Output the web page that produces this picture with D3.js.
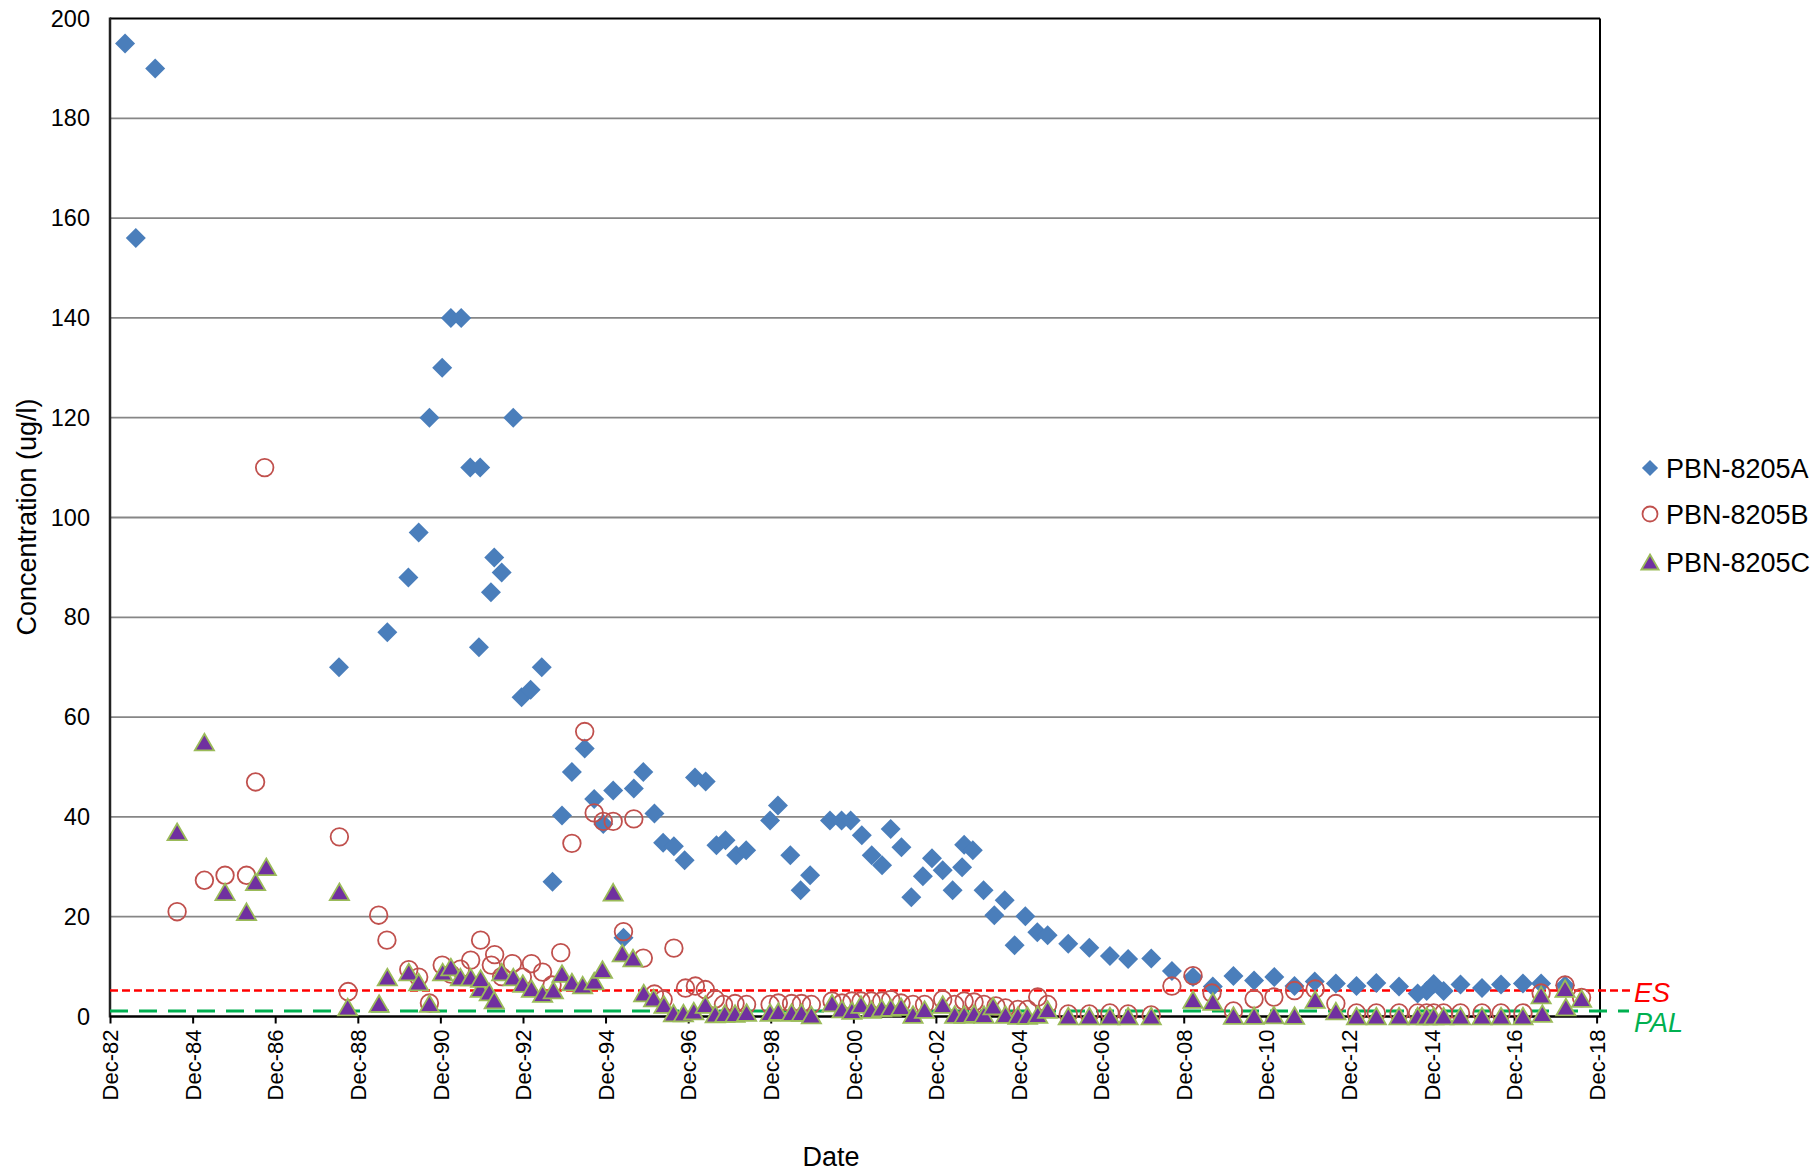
<!DOCTYPE html>
<html><head><meta charset="utf-8">
<script src="https://cdn.jsdelivr.net/npm/d3@7"></script>
<style>
html,body{margin:0;padding:0;background:#fff;}
svg{display:block;font-family:"Liberation Sans",Arial,sans-serif;}
</style></head>
<body>
<svg id="chart" width="1820" height="1171"></svg>
<script>
// ---- data (dates as decimal years, values in ug/l) ----
const datesA = [1983.28,1983.54,1984.01,1988.46,1989.63,1990.14,1990.39,1990.65,1990.96,1991.17,1991.42,1991.64,1991.85,1991.88,1992.14,1992.22,1992.40,1992.68,1992.88,1993.10,1993.37,1993.63,1993.86,1994.10,1994.41,1994.64,1994.86,1995.10,1995.35,1995.60,1995.83,1996.10,1996.31,1996.57,1996.83,1997.08,1997.34,1997.60,1997.82,1998.08,1998.32,1998.90,1999.09,1999.39,1999.64,1999.87,2000.35,2000.63,2000.85,2001.12,2001.36,2001.61,2001.82,2002.08,2002.32,2002.60,2002.82,2003.08,2003.32,2003.55,2003.60,2003.81,2004.07,2004.33,2004.58,2004.82,2005.08,2005.37,2005.62,2006.12,2006.63,2007.13,2007.57,2008.13,2008.63,2009.14,2009.62,2010.12,2010.62,2011.11,2011.60,2012.09,2012.60,2013.10,2013.58,2014.13,2014.58,2014.80,2014.97,2015.21,2015.62,2016.14,2016.60,2017.13,2017.57,2018.15];
const valuesA = [195,156,190,70,77,88,97,120,130,140,140,110,74,110,85,92,89,120,64,65.5,70,27,40.3,49,53.7,43.6,38.6,45.3,15.8,45.7,49,40.7,34.8,34.1,31.3,47.9,47.1,34.3,35.3,32.3,33.3,39.3,42.3,32.3,25.3,28.3,39.3,39.3,39.3,36.3,32.3,30.3,37.6,33.9,23.9,28.1,31.7,29.3,25.3,29.9,34.4,33.3,25.3,20.3,23.3,14.3,20.1,16.9,16.3,14.6,13.8,12.1,11.5,11.6,9.1,7.9,6.0,8.1,7.2,7.9,6.1,7.0,6.6,6.1,6.7,6.0,4.6,5.1,6.5,5.1,6.4,5.7,6.4,6.6,6.6,6.2];

const datesB = [1984.54,1985.20,1985.70,1986.22,1986.44,1986.66,1988.47,1988.68,1989.42,1989.62,1990.15,1990.39,1990.65,1990.96,1991.17,1991.40,1991.65,1991.89,1992.15,1992.23,1992.40,1992.66,1992.90,1993.12,1993.39,1993.62,1993.83,1994.10,1994.41,1994.64,1994.86,1995.10,1995.35,1995.60,1995.83,1996.10,1996.31,1996.57,1996.85,1997.09,1997.33,1997.57,1997.77,1998.05,1998.33,1998.90,1999.10,1999.42,1999.66,1999.90,2000.40,2000.64,2000.88,2001.10,2001.35,2001.60,2001.82,2002.07,2002.36,2002.64,2003.08,2003.37,2003.60,2003.84,2004.08,2004.37,2004.60,2004.90,2005.13,2005.38,2005.62,2006.12,2006.63,2007.13,2007.57,2008.13,2008.63,2009.14,2009.60,2010.12,2010.62,2011.10,2011.60,2012.10,2012.60,2013.10,2013.58,2014.13,2014.58,2014.80,2014.97,2015.21,2015.62,2016.14,2016.60,2017.13,2017.57,2018.15,2018.55];
const valuesB = [21,27.3,28.3,28.3,47,110,36,5,20.3,15.3,9.4,7.9,2.7,10.3,8.5,9.5,11.3,15.3,10.3,12.4,8,10.6,7.9,10.6,8.9,6.3,12.8,34.7,57.1,40.8,39.1,39.1,17,39.6,11.7,4.5,3.4,13.7,5.7,6.1,5.4,3.5,2.4,2.6,2.4,2.4,2.7,2.6,2.6,2.4,3.1,2.7,3.1,3.1,3.1,3.1,3.4,2.7,2.4,2.4,3.4,2.4,3.1,2.9,2.4,2.1,1.7,1.4,1.4,3.9,2.4,0.5,0.5,0.7,0.5,0.3,6.1,8.2,4.7,1.1,3.5,3.9,5.2,5.5,2.6,0.7,0.7,0.7,0.7,0.7,0.7,0.7,0.7,0.7,0.7,0.7,4.7,6.3,3.8];

const datesC = [1984.54,1985.20,1985.70,1986.22,1986.44,1986.70,1988.47,1988.67,1989.43,1989.63,1990.15,1990.39,1990.65,1990.97,1991.17,1991.40,1991.65,1991.88,1991.89,1992.10,1992.22,1992.40,1992.68,1992.91,1993.12,1993.39,1993.65,1993.86,1994.10,1994.36,1994.64,1994.84,1995.10,1995.32,1995.58,1995.84,1996.08,1996.33,1996.56,1996.80,1997.05,1997.33,1997.57,1997.80,1998.05,1998.33,1998.90,1999.10,1999.42,1999.66,1999.90,2000.40,2000.64,2000.88,2001.10,2001.35,2001.60,2001.82,2002.07,2002.36,2002.64,2003.08,2003.37,2003.60,2003.84,2004.08,2004.30,2004.60,2004.90,2005.13,2005.38,2005.62,2006.12,2006.63,2007.13,2007.57,2008.13,2009.14,2009.62,2010.12,2010.62,2011.10,2011.60,2012.10,2012.60,2013.10,2013.58,2014.13,2014.58,2014.80,2014.97,2015.21,2015.62,2016.14,2016.60,2017.13,2017.57,2017.60,2018.15,2018.17,2018.55];
const valuesC = [37,55,25,21,27,30,25,1.9,2.6,7.9,8.9,6.9,2.6,8.9,9.9,7.9,7.9,5.6,7.6,4.9,3.3,8.9,7.9,6.6,5.6,4.6,5.3,8.6,6.9,6.3,7.1,9.4,24.9,12.7,11.7,4.7,3.7,2.4,0.7,0.7,1.1,2.4,0.5,0.6,0.6,0.8,0.8,1.0,0.8,0.8,0.3,2.7,1.5,1.2,2.4,1.4,1.7,1.8,2.0,0.4,1.4,2.4,0.4,0.4,0.6,0.4,2.1,0.4,0.2,0.2,0.4,1.4,0.1,0.1,0.1,0.1,0.1,3.4,3.0,0.2,0.2,0.3,0.2,3.4,1.1,0.1,0.1,0.1,0.1,0.1,0.1,0.1,0.1,0.1,0.1,0.1,4.3,0.6,5.6,1.9,3.6];

const seriesNames = ["PBN-8205A","PBN-8205B","PBN-8205C"];
const yTicks = [0,20,40,60,80,100,120,140,160,180,200];
const xTickYears = [1982,1984,1986,1988,1990,1992,1994,1996,1998,2000,2002,2004,2006,2008,2010,2012,2014,2016,2018];
const ES = 5.2, PAL = 1.1;
const refLabels = ["ES","PAL"];
const yTitle = "Concentration (ug/l)", xTitle = "Date";

// ---- layout ----
const L = 110, R = 1600, T = 18.5, B = 1016.5;
const svg = d3.select("#chart");
svg.append("rect").attr("width",1820).attr("height",1171).attr("fill","#fff");

function toDate(y){const yr=Math.floor(y);const s=new Date(yr,0,1).getTime(),e=new Date(yr+1,0,1).getTime();return new Date(s+(y-yr)*(e-s));}

const x = d3.scaleTime().domain([new Date(1982,11,1), new Date(2018,11,31)]).range([L,R]);
const y = d3.scaleLinear().domain([0,200]).range([B,T]);

// gridlines
svg.append("g").selectAll("line").data(yTicks.filter(v=>v>0&&v<200)).join("line")
  .attr("x1",L).attr("x2",R).attr("y1",d=>y(d)).attr("y2",d=>y(d))
  .attr("stroke","#868686").attr("stroke-width",1.8);

// y axis
const gy = svg.append("g").attr("transform",`translate(${L},0)`)
  .call(d3.axisLeft(y).tickValues(yTicks).tickSize(0).tickPadding(20));
gy.select(".domain").remove();
gy.selectAll("text").attr("font-size",23.5).attr("fill","#000").attr("font-family","Liberation Sans, Arial, sans-serif");

// x axis
const gx = svg.append("g").attr("transform",`translate(0,${B})`)
  .call(d3.axisBottom(x).tickValues(xTickYears.map(yy=>new Date(yy,11,1))).tickSize(7).tickFormat(d3.timeFormat("%b-%y")));
gx.select(".domain").remove();
gx.selectAll(".tick line").attr("stroke","#000").attr("stroke-width",2);
gx.selectAll("text").attr("font-size",22).attr("fill","#000").attr("font-family","Liberation Sans, Arial, sans-serif")
  .attr("transform","rotate(-90)").attr("text-anchor","end").attr("x",-13).attr("y",0).attr("dy","0.35em");

// plot border
svg.append("line").attr("x1",L).attr("x2",R).attr("y1",T).attr("y2",T).attr("stroke","#000").attr("stroke-width",2);
svg.append("line").attr("x1",R).attr("x2",R).attr("y1",T).attr("y2",B).attr("stroke","#000").attr("stroke-width",2);
svg.append("line").attr("x1",L).attr("x2",L).attr("y1",T-1).attr("y2",B+1).attr("stroke","#222").attr("stroke-width",2.5);
svg.append("line").attr("x1",L).attr("x2",R+1).attr("y1",B).attr("y2",B).attr("stroke","#000").attr("stroke-width",2.5);

// reference lines
svg.append("line").attr("x1",L).attr("x2",1632).attr("y1",y(ES)).attr("y2",y(ES))
  .attr("stroke","#ff0000").attr("stroke-width",2.5).attr("stroke-dasharray","8,4");
svg.append("line").attr("x1",L).attr("x2",1629).attr("y1",y(PAL)).attr("y2",y(PAL))
  .attr("stroke","#00b050").attr("stroke-width",2.8).attr("stroke-dasharray","18,11");
svg.append("text").attr("x",1634).attr("y",y(ES)+11).text(refLabels[0])
  .attr("font-size",27).attr("font-style","italic").attr("fill","#ff0000");
svg.append("text").attr("x",1634).attr("y",y(PAL)+21).text(refLabels[1])
  .attr("font-size",27).attr("font-style","italic").attr("fill","#00b050");

// symbols
const diamond = d3.symbol().type(d3.symbolSquare).size(200);
const triType = {draw(ctx,size){const s=Math.sqrt(size*4/Math.sqrt(3));const h=s*Math.sqrt(3)/2;ctx.moveTo(0,-h/2);ctx.lineTo(s/2,h/2);ctx.lineTo(-s/2,h/2);ctx.closePath();}};
const triangle = d3.symbol().type(triType).size(160);

const dataA = datesA.map((d,i)=>({d:toDate(d),v:valuesA[i]}));
const dataB = datesB.map((d,i)=>({d:toDate(d),v:valuesB[i]}));
const dataC = datesC.map((d,i)=>({d:toDate(d),v:valuesC[i]}));

svg.append("g").selectAll("path").data(dataA).join("path")
  .attr("d",diamond).attr("transform",d=>`translate(${x(d.d)},${y(d.v)}) rotate(45)`)
  .attr("fill","#4a7ebb");
svg.append("g").selectAll("circle").data(dataB).join("circle")
  .attr("cx",d=>x(d.d)).attr("cy",d=>y(d.v)).attr("r",8.8)
  .attr("fill","none").attr("stroke","#c0504d").attr("stroke-width",1.8);
svg.append("g").selectAll("path").data(dataC).join("path")
  .attr("d",triangle).attr("transform",d=>`translate(${x(d.d)},${y(d.v)})`)
  .attr("fill","#7030a0").attr("stroke","#9bbb59").attr("stroke-width",1.8).attr("stroke-linejoin","miter");

// axis titles
svg.append("text").attr("transform","translate(27,517) rotate(-90)").attr("text-anchor","middle")
  .attr("dy","0.35em").attr("font-size",27).text(yTitle);
svg.append("text").attr("x",831).attr("y",1166).attr("text-anchor","middle").attr("font-size",27).text(xTitle);

// legend
const lg = svg.append("g");
const ly = [468,514,562];
lg.append("path").attr("d",d3.symbol().type(d3.symbolSquare).size(130)).attr("transform",`translate(1650,${ly[0]}) rotate(45)`).attr("fill","#4a7ebb");
lg.append("circle").attr("cx",1650).attr("cy",ly[1]).attr("r",7.5).attr("fill","none").attr("stroke","#c0504d").attr("stroke-width",1.8);
lg.append("path").attr("d",d3.symbol().type(triType).size(130)).attr("transform",`translate(1650,${ly[2]})`).attr("fill","#7030a0").attr("stroke","#9bbb59").attr("stroke-width",1.8);
lg.selectAll("text").data(seriesNames).join("text").attr("x",1666).attr("y",(d,i)=>ly[i]).attr("dy","0.36em")
  .attr("font-size",27).text(d=>d);
</script>
</body></html>
